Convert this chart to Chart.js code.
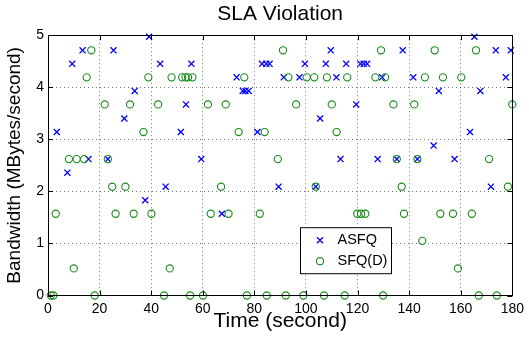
<!DOCTYPE html>
<html><head><meta charset="utf-8">
<script src="https://cdn.jsdelivr.net/npm/chart.js@4"></script>
<style>html,body{margin:0;padding:0;background:#fff}#wrap{width:529px;height:341px}</style>
</head><body><div id="wrap"><canvas id="c" width="529" height="341"></canvas></div>
<script>
const xTickValues=[0,20,40,60,80,100,120,140,160,180];
const yTickValues=[0,1,2,3,4,5];
const asfqX=[3.4,7.5,9.4,13.4,15.7,23.2,25.4,29.6,33.6,37.7,39.2,43.5,45.6,51.5,53.5,55.6,59.4,67.4,73.1,75.5,76.5,77.8,81.2,83.0,84.6,85.9,89.4,91.4,97.5,99.6,103.8,105.5,107.7,109.6,111.8,113.4,115.6,119.5,121.1,122.4,123.7,127.8,129.5,135.2,137.5,141.6,143.2,149.5,151.5,157.6,163.6,165.3,167.6,171.7,173.6,177.5,179.4];
const asfqY=[3.14,2.36,4.45,4.71,2.62,2.62,4.71,3.40,3.93,1.83,4.97,4.45,2.09,3.14,3.67,4.45,2.62,1.57,4.19,3.93,3.93,3.93,3.14,4.45,4.45,4.45,2.09,4.19,4.19,4.45,2.09,3.40,4.45,4.71,4.19,2.62,4.45,3.67,4.45,4.45,4.45,2.62,4.19,2.62,4.71,4.19,2.62,2.88,3.93,2.62,3.14,4.97,3.93,2.09,4.71,4.19,4.71];
const sfqX=[1.1,2.1,3.0,8.1,10.0,11.1,14.0,15.0,16.8,18.1,22.0,23.2,24.9,26.2,30.0,31.8,33.2,37.0,38.9,40.1,42.7,45.0,47.2,47.9,52.0,53.3,54.3,55.1,56.0,60.1,62.0,63.1,67.1,68.9,70.0,73.9,76.1,77.1,82.1,84.0,84.8,89.1,91.1,92.2,93.2,96.2,99.0,100.3,103.2,103.8,107.0,108.1,110.0,111.9,115.0,116.0,119.9,121.4,123.0,126.9,129.1,129.9,130.7,133.9,135.2,137.1,138.0,142.0,143.2,145.1,146.1,149.9,152.1,153.1,157.0,158.9,160.2,164.3,165.9,167.0,171.0,174.0,178.3,180.0];
const sfqY=[0,0,1.57,2.62,0.52,2.62,2.62,4.19,4.71,0,3.67,2.62,2.09,1.57,2.09,3.67,1.57,3.14,4.19,1.57,3.67,0,0.52,4.19,4.19,4.19,4.19,0,4.19,0,3.67,1.57,2.09,3.67,1.57,3.14,4.19,0,1.57,3.14,0,2.62,4.71,0,4.19,3.67,0,4.19,4.19,2.09,0,4.19,3.67,3.14,0,4.19,1.57,1.57,1.57,4.19,4.71,0,4.19,3.67,2.62,2.09,1.57,3.67,2.62,1.05,4.19,4.71,1.57,4.19,1.57,0.52,4.19,1.57,4.71,0,2.62,0,2.09,3.67];
const seriesNames=['ASFQ','SFQ(D)'];
const BLUE='#0000ff', GREEN='#1a8c1a';
const FONT='"Liberation Sans", Arial, Helvetica, sans-serif';

const toPts=(xs,ys)=>xs.map((x,i)=>({x:x,y:ys[i]}));

const boxPlugin={
  id:'box',
  afterDraw(chart){
    const {ctx,chartArea:a,scales:{x,y}}=chart;
    ctx.save();
    ctx.strokeStyle='#000';ctx.lineWidth=1;
    ctx.beginPath();
    ctx.rect(Math.round(a.left)+0.5,Math.round(a.top)+0.5,Math.round(a.right-a.left),Math.round(a.bottom-a.top));
    ctx.stroke();
    const L=5;
    ctx.beginPath();
    xTickValues.forEach(v=>{const px=Math.round(x.getPixelForValue(v))+0.5;
      ctx.moveTo(px,a.bottom);ctx.lineTo(px,a.bottom-L);
      ctx.moveTo(px,a.top);ctx.lineTo(px,a.top+L);});
    yTickValues.forEach(v=>{const py=Math.round(y.getPixelForValue(v))+0.5;
      ctx.moveTo(a.left,py);ctx.lineTo(a.left+L,py);
      ctx.moveTo(a.right,py);ctx.lineTo(a.right-L,py);});
    ctx.stroke();
    // legend
    const lx=a.left+252.5, ly=a.top+192.5, lw=91, lh=46;
    ctx.fillStyle='#fff';ctx.fillRect(lx,ly,lw,lh);
    ctx.strokeStyle='#000';ctx.strokeRect(lx,ly,lw,lh);
    const mx=lx+19.5;
    const r1=ly+12.5, r2=ly+33.5;
    ctx.lineWidth=1.3;
    ctx.strokeStyle=BLUE;ctx.beginPath();
    ctx.moveTo(mx-3,r1-3);ctx.lineTo(mx+3,r1+3);ctx.moveTo(mx-3,r1+3);ctx.lineTo(mx+3,r1-3);ctx.stroke();
    ctx.strokeStyle=GREEN;ctx.lineWidth=1.1;ctx.beginPath();ctx.arc(mx,r2,3.6,0,Math.PI*2);ctx.stroke();
    ctx.fillStyle='#000';ctx.font='14.5px '+FONT;ctx.textBaseline='middle';ctx.textAlign='left';
    ctx.fillText(seriesNames[0],lx+37,r1);
    ctx.fillText(seriesNames[1],lx+37,r2);
    ctx.restore();
  }
};

new Chart(document.getElementById('c'),{
  type:'scatter',
  data:{datasets:[
    {label:seriesNames[0],data:toPts(asfqX,asfqY),pointStyle:'crossRot',pointRadius:4.3,pointBorderWidth:1.3,borderColor:BLUE,backgroundColor:BLUE,pointHoverRadius:4.3,clip:false,order:1},
    {label:seriesNames[1],data:toPts(sfqX,sfqY),pointStyle:'circle',pointRadius:3.6,pointBorderWidth:1.1,borderColor:GREEN,backgroundColor:'rgba(0,0,0,0)',pointHoverRadius:3.6,clip:false,order:0}
  ]},
  options:{
    responsive:false,animation:false,
    layout:{padding:{left:0,right:12,top:0,bottom:0}},
    plugins:{
      legend:{display:false},tooltip:{enabled:false},
      title:{display:true,text:'SLA Violation',color:'#000',fullSize:false,font:{family:FONT,size:21,weight:'normal',lineHeight:1.2},padding:{top:2,bottom:8}}
    },
    scales:{
      x:{type:'linear',min:0,max:180,
        afterBuildTicks(s){s.ticks=xTickValues.map(v=>({value:v}));},
        afterFit(s){s.height=45.5;},
        ticks:{color:'#000',font:{family:FONT,size:14},padding:5,maxRotation:0,autoSkip:false},
        grid:{color:'rgba(0,0,0,0.55)',drawTicks:false,lineWidth:1},
        border:{display:false,dash:[1,3]},
        title:{display:true,text:'Time (second)',color:'#000',font:{family:FONT,size:21,lineHeight:1.2},padding:{top:0,bottom:7}}
      },
      y:{type:'linear',min:0,max:5,
        afterBuildTicks(s){s.ticks=yTickValues.map(v=>({value:v}));},
        afterFit(s){s.width=48;},
        ticks:{color:'#000',font:{family:FONT,size:14},padding:4},
        grid:{color:'rgba(0,0,0,0.55)',drawTicks:false,lineWidth:1},
        border:{display:false,dash:[1,3]},
        title:{display:true,text:'Bandwidth (MBytes/second)',color:'#000',font:{family:FONT,size:19,lineHeight:1.2},padding:{top:3,bottom:0}}
      }
    }
  },
  plugins:[boxPlugin]
});
</script></body></html>
